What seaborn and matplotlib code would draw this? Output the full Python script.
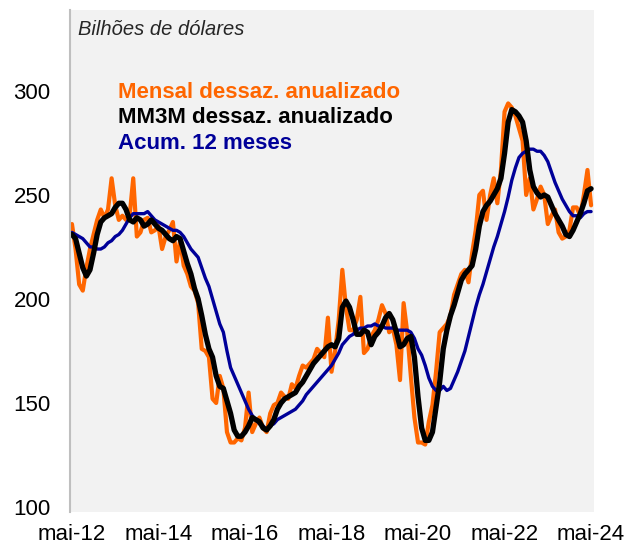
import matplotlib
matplotlib.use("Agg")
import matplotlib.pyplot as plt
import pandas as pd
import seaborn as sns

# monthly index: 0 = mai-12 ... 144 = mai-24
months = list(range(145))

mensal = [236, 224, 207, 204, 215, 224, 231, 238, 243, 239,
          243, 258, 245, 238, 240, 238, 240, 258, 230, 232,
          238, 239, 232, 233, 235, 224, 230, 233, 237, 218,
          228, 216, 212, 206, 204, 198, 176, 175, 172, 152,
          150, 163, 157, 136, 131, 131, 133, 132, 138, 155,
          136, 140, 143, 138, 136, 145, 149, 150, 155, 153,
          152, 159, 157, 163, 168, 167, 169, 171, 176, 174,
          172, 191, 165, 175, 190, 214, 196, 185, 185, 190,
          201, 174, 176, 182, 185, 190, 197, 193, 184, 186,
          178, 161, 198, 184, 163, 143, 131, 131, 130, 141,
          149, 165, 184, 186, 188, 192, 202, 207, 212, 214,
          208, 222, 233, 250, 252, 238, 250, 258, 246, 262,
          290, 294, 292, 288, 282, 276, 250, 258, 243, 248,
          254, 250, 236, 240, 243, 232, 229, 230, 233, 244,
          244, 240, 250, 262, 245]

mm3m = [231, 229, 222, 215, 211, 214, 222, 231, 237, 239,
        240, 241, 244, 246, 246, 243, 238, 237, 239, 238,
        235, 236, 238, 236, 234, 233, 231, 229, 228, 230,
        229, 223, 217, 212, 205, 200, 192, 183, 176, 172,
        163, 158, 157, 151, 145, 137, 134, 134, 136, 139,
        143, 142, 141, 138, 137, 139, 142, 147, 150, 152,
        153, 154, 155, 158, 160, 163, 166, 169, 171, 173,
        175, 177, 178, 177, 181, 196, 199, 196, 190, 183,
        183, 185, 184, 178, 182, 184, 187, 191, 193, 190,
        184, 177, 178, 181, 182, 172, 153, 138, 132, 132,
        136, 148, 160, 176, 185, 192, 197, 203, 209, 212,
        214, 216, 224, 235, 242, 245, 247, 250, 253, 258,
        270, 285, 291, 290, 288, 285, 276, 262, 254, 251,
        249, 250, 249, 245, 241, 238, 235, 231, 230, 233,
        237, 241, 246, 252, 253]

acum12 = [232, 231, 230, 229, 227, 225, 225, 224, 224, 225,
          227, 228, 230, 231, 233, 236, 239, 241, 241, 241,
          241, 242, 240, 238, 237, 236, 235, 234, 233, 233,
          232, 230, 227, 224, 222, 220, 215, 210, 206, 200,
          194, 188, 184, 175, 167, 163, 159, 155, 151, 147,
          144, 142, 140, 139, 137, 139, 140, 142, 143, 144,
          145, 146, 147, 149, 151, 154, 156, 158, 160, 162,
          164, 166, 168, 171, 174, 178, 180, 182, 183, 185,
          186, 186, 187, 187, 188, 187, 187, 186, 186, 186,
          185, 185, 185, 185, 184, 181, 176, 173, 168, 162,
          158, 156, 156, 158, 156, 157, 161, 165, 170, 175,
          182, 189, 196, 202, 207, 213, 219, 225, 230, 236,
          242, 249, 257, 263, 268, 270, 271, 272, 272, 271,
          271, 269, 266, 261, 256, 252, 248, 245, 242, 240,
          240, 239, 241, 242, 242]

tick_pos = [0, 24, 48, 72, 96, 120, 144]
tick_labels = ["mai-12", "mai-14", "mai-16", "mai-18", "mai-20", "mai-22", "mai-24"]
y_ticks = [100, 150, 200, 250, 300]

names = ["Mensal dessaz. anualizado", "MM3M dessaz. anualizado", "Acum. 12 meses"]
colors = ["#ff6600", "#000000", "#000099"]

sns.set_theme(style="white")
plt.rcParams["font.family"] = ["Liberation Sans", "DejaVu Sans"]

df = pd.DataFrame({"mes": months, names[0]: mensal, names[1]: mm3m, names[2]: acum12})

fig = plt.figure(figsize=(6.27, 5.46), dpi=100)
ax = fig.add_axes([0.1116, 0.0623, 0.8357, 0.9194])
ax.set_facecolor("#f2f2f2")

sns.lineplot(data=df, x="mes", y=names[0], color=colors[0], linewidth=3.0, ax=ax)
sns.lineplot(data=df, x="mes", y=names[2], color=colors[2], linewidth=2.4, ax=ax)
sns.lineplot(data=df, x="mes", y=names[1], color=colors[1], linewidth=3.8, ax=ax)

ax.set_xlim(-0.55, 144.8)
ax.set_ylim(97.6, 338.9)
ax.set_xticks(tick_pos)
ax.set_xticklabels(tick_labels)
ax.set_yticks(y_ticks)
ax.set_xlabel("")
ax.set_ylabel("")
ax.tick_params(axis="both", length=0, labelsize=16, colors="black")
ax.tick_params(axis="y", pad=14)
ax.tick_params(axis="x", pad=9)

for s in ["top", "right", "bottom"]:
    ax.spines[s].set_visible(False)
ax.spines["left"].set_color("#bfbfbf")
ax.spines["left"].set_linewidth(1.5)

ax.text(0.016, 0.962, "Bilhões de dólares", transform=ax.transAxes,
        fontsize=14.5, style="italic", va="center", ha="left")
for k, (name, c) in enumerate(zip(names, colors)):
    ax.text(0.092, 0.836 - k * 0.051, name, transform=ax.transAxes,
            fontsize=16, fontweight="bold", color=c, va="center", ha="left")

fig.savefig("out.png", dpi=100)
